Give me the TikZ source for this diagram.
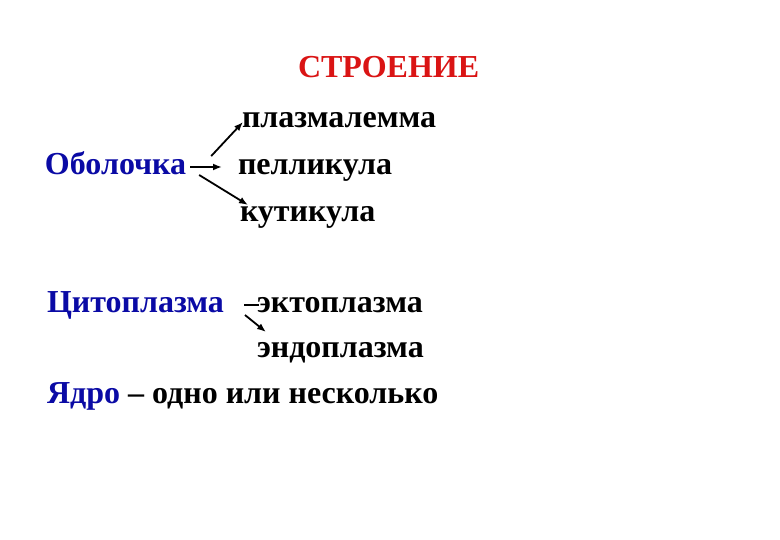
\documentclass[tikz,border=0pt]{standalone}
\usepackage{fontspec}
\setmainfont{Liberation Serif}
\usetikzlibrary{arrows.meta}
\definecolor{titlered}{RGB}{218,20,20}
\definecolor{partblue}{RGB}{10,10,165}
\tikzset{
	every node/.style={inner sep=0pt,outer sep=0pt,font=\fontsize{32}{38}\selectfont\bfseries},
	word/.style={anchor=base west},
	part/.style={word,text=partblue},
	arr/.style={-{Latex[length=9pt,width=7pt]},line width=1.8pt},
}
\begin{document}
\begin{tikzpicture}[x=1pt,y=-1pt]
			\useasboundingbox [fill=white] (0,0) rectangle (780,540);
			
			% title.....................
			\node [word, text=titlered] (title) at (298,78) {СТРОЕНИЕ};
			
			% cell wall......................
			\node [part] (obol) at (45,175) {Оболочка};
			\node [word] (plazma) at (242,128) {плазмалемма};
			\node [word] (pell) at (238,175) {пелликула};
			\node [word] (kutik) at (240,222) {кутикула};
			
			% cytoplasm...................
			\node [part] (cyto) at (47,313) {Цитоплазма};
			\node [word] (ekto) at (257,313) {эктоплазма};
			\node [word] (endo) at (257,358) {эндоплазма};
			
			% nucleus....................
			\node [word] (yadro) at (47,403) {\textcolor{partblue}{Ядро} – одно или несколько};
			
			% arrows from the wall.............
			\draw [arr] ([shift={(25,4)}]obol.north east) to ([shift={(1,-6)}]plazma.base west);
			\draw [arr] ([shift={(4,-8)}]obol.base east) to ([shift={(-16,-8)}]pell.base west);
			\draw [arr] ([xshift=13]obol.base east) to ([shift={(8,-17)}]kutik.base west);
			
			% arrows from the cytoplasm.........
			\draw [line width=1.8pt] ([shift={(20,-8)}]cyto.base east) to ([shift={(2,-8)}]ekto.base west);
			\draw [arr] ([shift={(21,2)}]cyto.base east) to ([shift={(9,-26)}]endo.base west);
		\end{tikzpicture}
\end{document}
